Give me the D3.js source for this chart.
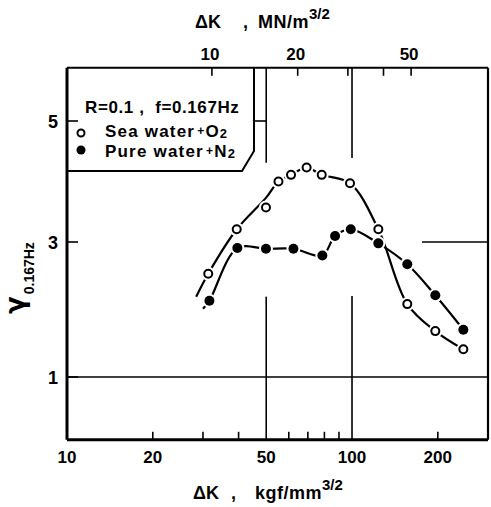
<!DOCTYPE html>
<html>
<head>
<meta charset="utf-8">
<script src="https://cdn.jsdelivr.net/npm/d3@7"></script>
<style>
body { margin: 0; background: #fff; }
text { font-family: "Liberation Sans", Arial, sans-serif; font-weight: bold; fill: #000; }
</style>
</head>
<body>
<svg></svg>
<script>
// ΔK in kgf/mm^3/2, gamma at 0.167Hz
const seaK  = [31.3, 39.4, 49.9, 55.2, 61.1, 69.3, 78.3, 98.4, 123.7, 156.3, 196, 245.8];
const seaG  = [2.53, 3.21, 3.57, 4.00, 4.11, 4.23, 4.11, 3.97, 3.21, 2.08, 1.68, 1.41];
const pureK = [31.6, 39.6, 49.9, 62.3, 78.7, 87.2, 99.0, 123.7, 156.3, 196, 245.8];
const pureG = [2.13, 2.91, 2.90, 2.90, 2.80, 3.10, 3.21, 2.98, 2.67, 2.21, 1.70];

// hand drawn fit lines
const seaFitK  = [28.4, 31.3, 39.4, 49.9, 55.2, 61.1, 69.3, 78.3, 98.4, 123.7, 156.3, 196, 245.8];
const seaFitG  = [2.19, 2.53, 3.21, 3.73, 4.00, 4.11, 4.23, 4.11, 3.97, 3.21, 2.08, 1.68, 1.41];
const pureFitK = [30.0, 31.6, 39.6, 49.9, 62.3, 78.7, 87.2, 99.0, 123.7, 156.3, 196, 245.8];
const pureFitG = [2.01, 2.13, 2.91, 2.90, 2.90, 2.80, 3.10, 3.21, 2.98, 2.67, 2.21, 1.70];

// axes
const xLabels = [10, 20, 50, 100, 200];
const xMinor  = [20, 30, 40, 60, 70, 80, 90, 200];
const mnLabels = [10, 20, 50];
const mnTicks  = [10, 20, 30, 40, 50];
const kgfPerMN = 3.224;   // 1 MN/m^3/2 = 3.224 kgf/mm^3/2
const yTicks = [1, 3, 5];
const xLo = 10, xHi = 300, yLo = 0.07, yHi = 5.88;

const width = 491, height = 507;
const svg = d3.select("svg").attr("width", width).attr("height", height);

const x = d3.scaleLog().domain([xLo, xHi]).range([67, 488]);
const y = d3.scaleLinear().domain([1, 3, 5]).range([377, 242, 121]);

// partial grid lines, the way they were drawn
const vGrid = [
  { k: 50,  spans: [[4.31, yHi], [yLo, 2.19]] },
  { k: 100, spans: [[4.39, yHi], [yLo, 2.20]] }
];
const hGrid = [
  { g: 1, spans: [[xLo, xHi]] },
  { g: 3, spans: [[176, xHi]] },
  { g: 5, spans: [[44.9, 50]] }
];

const grid = svg.append("g").attr("stroke", "#000").attr("stroke-width", 1.6);
vGrid.forEach(v => v.spans.forEach(s => {
  grid.append("line").attr("x1", x(v.k)).attr("x2", x(v.k))
    .attr("y1", y(s[0])).attr("y2", y(s[1]));
}));
hGrid.forEach(h => h.spans.forEach(s => {
  grid.append("line").attr("x1", x(s[0])).attr("x2", x(s[1]))
    .attr("y1", y(h.g)).attr("y2", y(h.g));
}));

// y ticks
svg.append("g").selectAll("line").data(yTicks).enter().append("line")
  .attr("x1", x(xLo)).attr("x2", x(xLo) + 11)
  .attr("y1", d => y(d)).attr("y2", d => y(d))
  .attr("stroke", "#000").attr("stroke-width", 1.6);
svg.append("g").selectAll("text").data(yTicks).enter().append("text")
  .attr("x", x(xLo) - 9).attr("y", d => y(d) + 7)
  .attr("text-anchor", "end").attr("font-size", 18).text(d => d);

// bottom ticks
svg.append("g").selectAll("line").data(xMinor).enter().append("line")
  .attr("x1", d => x(d)).attr("x2", d => x(d))
  .attr("y1", y(yLo)).attr("y2", y(yLo) - 8)
  .attr("stroke", "#000").attr("stroke-width", 1.6);
svg.append("g").selectAll("text").data(xLabels).enter().append("text")
  .attr("x", d => x(d)).attr("y", 463)
  .attr("text-anchor", "middle").attr("font-size", 17).text(d => d);

// top ticks (MN/m^3/2)
svg.append("g").selectAll("line").data(mnTicks).enter().append("line")
  .attr("x1", d => x(d * kgfPerMN)).attr("x2", d => x(d * kgfPerMN))
  .attr("y1", y(yHi)).attr("y2", y(yHi) + 8)
  .attr("stroke", "#000").attr("stroke-width", 1.6);
svg.append("g").selectAll("text").data(mnLabels).enter().append("text")
  .attr("x", d => x(d * kgfPerMN) - 2).attr("y", 60)
  .attr("text-anchor", "middle").attr("font-size", 17).text(d => d);

// frame
const frame = svg.append("g").attr("stroke", "#000").attr("fill", "none");
frame.append("line").attr("x1", x(xLo)).attr("x2", x(xLo)).attr("y1", y(yHi)).attr("y2", y(yLo)).attr("stroke-width", 3);
frame.append("line").attr("x1", x(xLo)).attr("x2", x(xHi)).attr("y1", y(yLo)).attr("y2", y(yLo)).attr("stroke-width", 3);
frame.append("line").attr("x1", x(xLo)).attr("x2", x(xHi)).attr("y1", y(yHi)).attr("y2", y(yHi)).attr("stroke-width", 2.2);
frame.append("line").attr("x1", x(xHi)).attr("x2", x(xHi)).attr("y1", y(yHi)).attr("y2", y(yLo)).attr("stroke-width", 2.2);

// legend box with cut corner
frame.append("path")
  .attr("d", `M${x(xLo)},171 L242,171 L254,151 L254,${y(yHi)}`)
  .attr("stroke-width", 2);

// fit curves
const line = d3.line().curve(d3.curveCatmullRom.alpha(0.5));
svg.append("path").datum(seaFitK.map((k, i) => [x(k), y(seaFitG[i])]))
  .attr("d", line).attr("fill", "none").attr("stroke", "#000").attr("stroke-width", 2.2);
svg.append("path").datum(pureFitK.map((k, i) => [x(k), y(pureFitG[i])]))
  .attr("d", line).attr("fill", "none").attr("stroke", "#000").attr("stroke-width", 2.2);

// white halos so the lines break at the markers
const sea = seaK.map((k, i) => ({ k: k, g: seaG[i] }));
const pure = pureK.map((k, i) => ({ k: k, g: pureG[i] }));
svg.append("g").selectAll("circle").data(sea.concat(pure)).enter().append("circle")
  .attr("cx", d => x(d.k)).attr("cy", d => y(d.g)).attr("r", 7).attr("fill", "#fff");

svg.append("g").selectAll("circle").data(sea).enter().append("circle")
  .attr("cx", d => x(d.k)).attr("cy", d => y(d.g)).attr("r", 4)
  .attr("fill", "#fff").attr("stroke", "#000").attr("stroke-width", 2);
svg.append("g").selectAll("circle").data(pure).enter().append("circle")
  .attr("cx", d => x(d.k)).attr("cy", d => y(d.g)).attr("r", 5)
  .attr("fill", "#000");

// legend
const lg = svg.append("g");
lg.append("text").attr("x", 85).attr("y", 113).attr("font-size", 17)
  .attr("letter-spacing", 0.6).attr("xml:space", "preserve").text("R=0.1 ,  f=0.167Hz");
lg.append("circle").attr("cx", 81).attr("cy", 133).attr("r", 3.5)
  .attr("fill", "#fff").attr("stroke", "#000").attr("stroke-width", 2);
lg.append("circle").attr("cx", 81).attr("cy", 150).attr("r", 4.5).attr("fill", "#000");
[["Sea water", "O", 137], ["Pure water", "N", 157]].forEach(r => {
  const t = lg.append("text").attr("x", 105).attr("y", r[2]).attr("font-size", 17)
    .attr("letter-spacing", 1.2);
  t.append("tspan").text(r[0]);
  t.append("tspan").attr("font-size", 12).attr("dx", 2).attr("dy", -2).text("+");
  t.append("tspan").attr("dy", 2).text(r[1]);
  t.append("tspan").attr("font-size", 13).attr("dy", 1).text("2");
});

// axis titles
const bt = svg.append("text").attr("y", 499).attr("font-size", 18);
bt.append("tspan").attr("x", 193).text("ΔK");
bt.append("tspan").attr("x", 231).text(",");
bt.append("tspan").attr("x", 255).attr("letter-spacing", 0.5).text("kgf/mm");
bt.append("tspan").attr("font-size", 15).attr("dy", -9).text("3/2");

const tt = svg.append("text").attr("y", 28).attr("font-size", 18);
tt.append("tspan").attr("x", 195).text("ΔK");
tt.append("tspan").attr("x", 243).text(",");
tt.append("tspan").attr("x", 258).attr("letter-spacing", 0.5).text("MN/m");
tt.append("tspan").attr("font-size", 15).attr("dy", -9).text("3/2");

const yt = svg.append("text").attr("transform", "translate(24,314) rotate(-90)");
yt.append("tspan").attr("font-family", "DejaVu Sans").attr("font-size", 26).text("γ");
yt.append("tspan").attr("font-size", 14).attr("dy", 10).attr("dx", 2).text("0.167Hz");
</script>
</body>
</html>
